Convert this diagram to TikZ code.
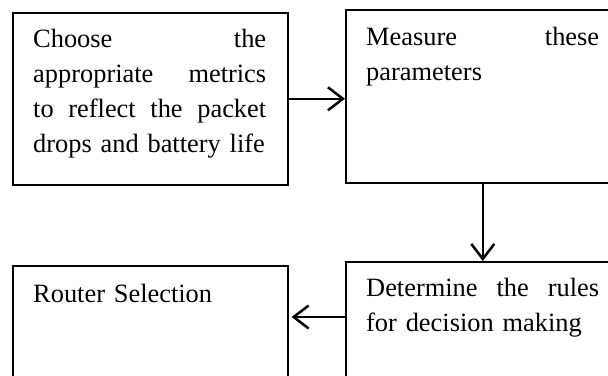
\documentclass[tikz,border=0pt]{standalone}
\usepackage{fontspec}
\setmainfont{Liberation Serif}
\usetikzlibrary{arrows.meta}
\newcommand\jline[1]{\leavevmode\hbox to 233pt{#1}}
\begin{document}
\begin{tikzpicture}[x=1pt,y=-1pt,
  box/.style={draw, line width=1.6pt, anchor=north west, inner sep=0pt, minimum width=275pt},
  txt/.style={anchor=north west, inner sep=0pt, align=left, text width=233pt,
              font=\fontsize{26.4}{35}\selectfont},
  conn/.style={line width=2.5pt, -{Straight Barb[length=15pt,width=23pt]}}]
  \useasboundingbox (0,0) rectangle (608,375);
  \clip (0,0) rectangle (608,375);
  % boxes
  \node[box, minimum height=172pt] (box1) at (12,12) {};
  \node[box, minimum height=173pt, minimum width=274pt] (box2) at (345,9) {};
  \node[box, minimum height=130pt] (box3) at (12,265) {};
  \node[box, minimum height=130pt, minimum width=274pt] (box4) at (345,261) {};
  % texts
  \node[txt] (t1) at (33,22.5) {\strut\jline{Choose\hfill the}\\ \jline{appropriate\hfill metrics}\\ \jline{to\hfill reflect\hfill the\hfill packet}\\ drops and battery life};
  \node[txt] (t2) at (366,20.5) {\strut\jline{Measure\hfill these}\\ parameters};
  \node[txt] (t3) at (33,277.5) {\strut Router Selection};
  \node[txt] (t4) at (366,271.5) {\strut\jline{Determine\hfill the\hfill rules}\\ for decision making};
  % connectors
  \coordinate (a3) at (345,317);
  \draw[conn] (box1.east) -- (box1.east -| box2.west);
  \draw[conn] (box2.south) -- (box4.north);
  \draw[conn, shorten >=3pt] (a3) -- (a3 -| box3.east);
\end{tikzpicture}
\end{document}
